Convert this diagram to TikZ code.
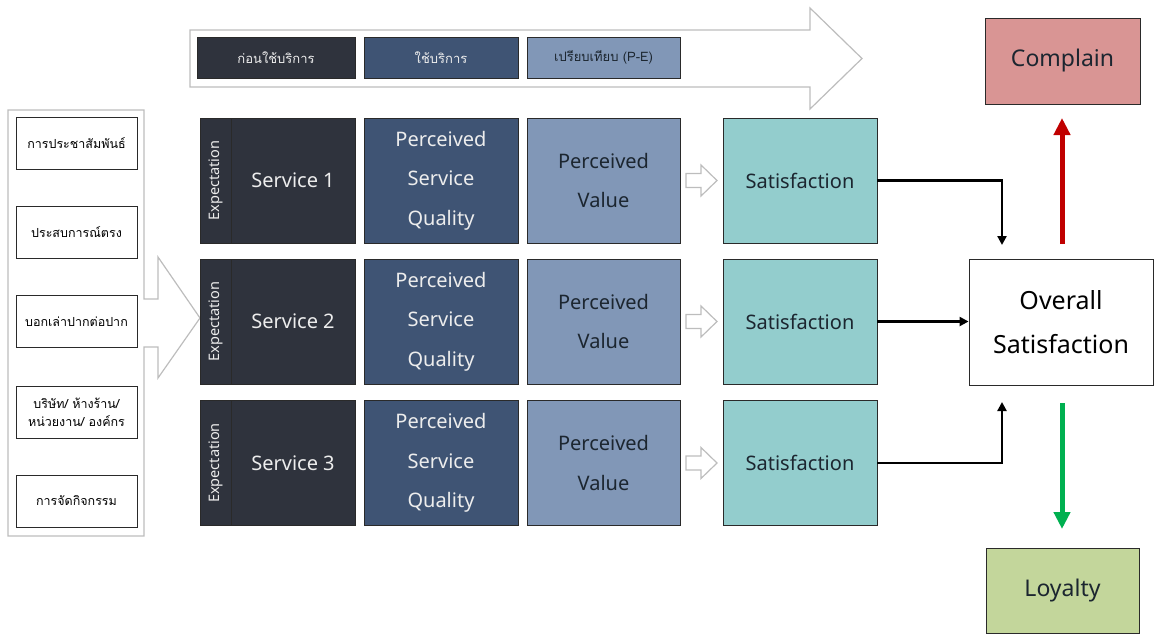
\documentclass[tikz,border=0pt]{standalone}
\usepackage{fontspec}
\setmainfont{Noto Sans}
\newfontfamily\thaifont[Script=Thai]{Loma}
\usetikzlibrary{arrows.meta}

\definecolor{darkbox}{HTML}{2F333D}
\definecolor{qualbox}{HTML}{3F5474}
\definecolor{valuebox}{HTML}{8197B7}
\definecolor{satbox}{HTML}{93CDCD}
\definecolor{complainbox}{HTML}{D99594}
\definecolor{loyalbox}{HTML}{C3D69B}
\definecolor{edge}{HTML}{2A2A2A}
\definecolor{hollowgray}{HTML}{BDBDBD}
\definecolor{lighttext}{HTML}{EDEDED}
\definecolor{darktext}{HTML}{1C2630}
\definecolor{redarrow}{HTML}{C00000}
\definecolor{greenarrow}{HTML}{00B050}

\begin{document}
\begin{tikzpicture}[x=1pt,y=-1pt,
  box/.style={draw=edge, line width=0.9pt, inner sep=0pt, align=center},
  topbox/.style={box, minimum height=41pt},
  rowbox/.style={box, minimum height=125pt, font=\fontsize{20}{39.5}\selectfont},
  srcbox/.style={box, fill=white, minimum width=121pt, minimum height=52pt,
    font=\thaifont\fontsize{12.5}{18}\selectfont, text=black},
  hollow/.style={draw=hollowgray, line width=1.2pt, fill=white},
  conn/.style={draw=black, line width=2.3pt, -{Triangle[length=9pt,width=9pt]}},
  bigarrow/.style={line width=5pt, -{Triangle[length=17pt,width=16pt]}}
]
\useasboundingbox (0,0) rectangle (1155,635);

% timeline arrow at the top
\draw[hollow] (190,30) -- (810,30) -- (810,8) -- (862,58.5) -- (810,109)
  -- (810,87) -- (190,87) -- cycle;
\node[topbox, fill=darkbox, minimum width=158pt, text=lighttext,
  font=\thaifont\fontsize{13}{15}\selectfont] (phase1) at (276,57.5) {ก่อนใช้บริการ};
\node[topbox, fill=qualbox, minimum width=154pt, text=lighttext,
  font=\thaifont\fontsize{13}{15}\selectfont] (phase2) at (441,57.5) {ใช้บริการ};
\node[topbox, fill=valuebox, minimum width=153pt, text=darktext,
  font=\thaifont\fontsize{13}{15}\selectfont] (phase3) at (603.5,57.5) {เปรียบเทียบ (P-E)};

% source panel with its arrow
\draw[hollow] (8,110) -- (144,110) -- (144,299) -- (158,299) -- (158,257)
  -- (200,318) -- (158,378) -- (158,347) -- (144,347) -- (144,536)
  -- (8,536) -- cycle;
\node[srcbox] (src1) at (76.5,143) {การประชาสัมพันธ์};
\node[srcbox] (src2) at (76.5,232) {ประสบการณ์ตรง};
\node[srcbox] (src3) at (76.5,321.5) {บอกเล่าปากต่อปาก};
\node[srcbox] (src4) at (76.5,412) {บริษัท/ ห้างร้าน/\\หน่วยงาน/ องค์กร};
\node[srcbox] (src5) at (76.5,501) {การจัดกิจกรรม};

% three service rows
\foreach \i/\y in {1/180.5,2/321.5,3/463}{
  \node[box, fill=darkbox, minimum width=31pt, minimum height=125pt] (exp\i) at (215.5,\y) {};
  \node[rotate=90, text=lighttext, font=\fontsize{14.5}{16}\selectfont] at (exp\i.center) {Expectation};
  \node[rowbox, fill=darkbox, minimum width=124pt, text=lighttext] (svc\i) at (293,\y) {Service \i};
  \node[rowbox, fill=qualbox, minimum width=154pt, text=lighttext] (psq\i) at (441,\y) {Perceived\\Service\\Quality};
  \node[rowbox, fill=valuebox, minimum width=153pt, text=darktext] (pv\i) at (603.5,\y) {Perceived\\Value};
  \node[rowbox, fill=satbox, minimum width=154pt, text=darktext] (sat\i) at (800,\y) {Satisfaction};
  \begin{scope}[shift={(686,\y)}]
    \draw[hollow] (0,-7) -- (15,-7) -- (15,-15.5) -- (31,0) -- (15,15.5)
      -- (15,7) -- (0,7) -- cycle;
  \end{scope}
}

% outcomes
\node[box, fill=white, minimum width=184pt, minimum height=126pt, text=black,
  font=\fontsize{25}{44}\selectfont] (overall) at (1061,322) {Overall\\Satisfaction};
\node[box, fill=complainbox, minimum width=155pt, minimum height=86pt, text=darktext,
  font=\fontsize{23}{28}\selectfont] (complain) at (1062.5,61) {Complain};
\node[box, fill=loyalbox, minimum width=153pt, minimum height=85pt, text=darktext,
  font=\fontsize{23}{28}\selectfont] (loyalty) at (1062.5,590.5) {Loyalty};

% connectors
\coordinate (in1) at (1002,245);
\coordinate (in3) at (1002,402);
\draw[conn] (sat1.east) -| (in1);
\draw[conn] (sat2.east) -- (sat2.east -| overall.west);
\draw[conn] (sat3.east) -| (in3);

\coordinate (upfrom) at (1062,244);
\coordinate (upto) at (1062,118);
\coordinate (downfrom) at (1062,403);
\coordinate (downto) at (1062,529);
\draw[bigarrow, draw=redarrow, fill=redarrow] (upfrom) -- (upto);
\draw[bigarrow, draw=greenarrow, fill=greenarrow] (downfrom) -- (downto);
\end{tikzpicture}
\end{document}
